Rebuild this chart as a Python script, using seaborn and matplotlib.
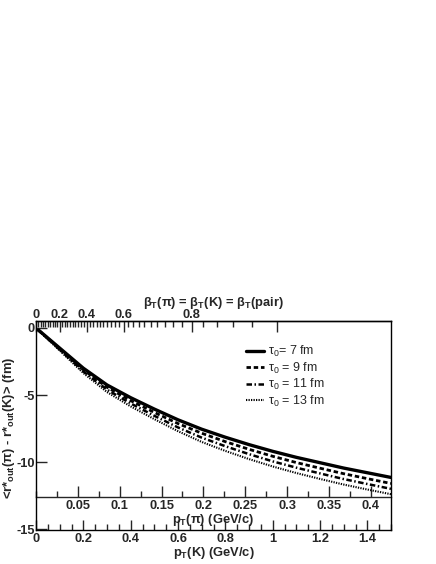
import numpy as np
import pandas as pd
import matplotlib
matplotlib.use("Agg")
import matplotlib.pyplot as plt
import matplotlib.ticker as mticker
import seaborn as sns

# data
p_kaon = [0.01, 0.05, 0.1, 0.2, 0.3, 0.4, 0.5, 0.6, 0.7, 0.8, 0.9, 1.0, 1.1, 1.2, 1.3, 1.4, 1.5]
tau7 = [-0.15, -0.75, -1.5, -3.0, -4.25, -5.2, -6.05, -6.85, -7.55, -8.15, -8.7, -9.2, -9.65, -10.05, -10.45, -10.8, -11.15]
tau9 = [-0.16, -0.78, -1.56, -3.12, -4.42, -5.42, -6.3, -7.13, -7.85, -8.48, -9.05, -9.57, -10.04, -10.46, -10.87, -11.24, -11.6]
tau11 = [-0.16, -0.81, -1.62, -3.24, -4.6, -5.63, -6.55, -7.42, -8.18, -8.82, -9.41, -9.95, -10.42, -10.85, -11.27, -11.64, -12.0]
tau13 = [-0.17, -0.84, -1.68, -3.36, -4.78, -5.85, -6.8, -7.7, -8.5, -9.17, -9.78, -10.33, -10.82, -11.26, -11.68, -12.05, -12.4]
labels = ["τ$_\\mathsf{0}$= 7 fm", "τ$_\\mathsf{0}$ = 9 fm", "τ$_\\mathsf{0}$ = 11 fm", "τ$_\\mathsf{0}$ = 13 fm"]

k_ticks = [0, 0.2, 0.4, 0.6, 0.8, 1.0, 1.2, 1.4]
pi_ticks = [0.05, 0.1, 0.15, 0.2, 0.25, 0.3, 0.35, 0.4]
beta_ticks = [0, 0.2, 0.4, 0.6, 0.8, 0.9]
beta_labels = ["0", "0.2", "0.4", "0.6", "0.8", ""]
y_ticks = [-15, -10, -5, 0]

M_PI = 0.1396
M_K = 0.4937

sns.set_style("ticks")
plt.rcParams['font.family'] = ['Liberation Sans', 'DejaVu Sans']
plt.rcParams['axes.unicode_minus'] = False
plt.rcParams['mathtext.fontset'] = 'custom'
plt.rcParams['mathtext.rm'] = 'Liberation Sans:bold'
plt.rcParams['mathtext.it'] = 'Liberation Sans:bold'
plt.rcParams['mathtext.bf'] = 'Liberation Sans:bold'
plt.rcParams['mathtext.sf'] = 'Liberation Sans'

df = pd.DataFrame({"pK": p_kaon * 4,
                   "val": tau7 + tau9 + tau11 + tau13,
                   "tau": sum([[l] * len(p_kaon) for l in labels], [])})

fig = plt.figure(figsize=(4.36, 5.64), dpi=100)
ax = fig.add_axes([36 / 436, 1 - 530 / 564, 355 / 436, 209 / 564])

styles = [dict(ls="-", lw=2.4),
          dict(ls=(0, (1.6, 1.0)), lw=2.0),
          dict(ls=(0, (2.2, 1.0, 0.6, 1.0)), lw=1.8),
          dict(ls=(0, (0.6, 0.6)), lw=1.5)]
for lab, st in zip(labels, styles):
    sns.lineplot(data=df[df["tau"] == lab], x="pK", y="val", color="black",
                 label=lab, ax=ax, **st)

ax.set_xlim(0, 1.5)
ax.set_ylim(-15.07, 0.52)
for s in ax.spines.values():
    s.set_linewidth(1.0)
    s.set_color("black")

ax.set_xticks(k_ticks)
ax.xaxis.set_major_formatter(mticker.FuncFormatter(lambda v, _: f"{v:g}"))
ax.xaxis.set_minor_locator(mticker.MultipleLocator(0.05))
ax.set_yticks(y_ticks)
ax.yaxis.set_major_formatter(mticker.FuncFormatter(lambda v, _: f"{v:g}"))
ax.tick_params(axis="x", which="major", direction="in", length=7, width=1, pad=2)
ax.tick_params(axis="x", which="minor", direction="in", length=4, width=1)
ax.tick_params(axis="y", which="major", direction="in", length=8, width=1, pad=1)
for t in ax.get_xticklabels() + ax.get_yticklabels():
    t.set_fontsize(9.3)
    t.set_fontweight("bold")

ax.set_xlabel("p$_\\mathrm{T}$(K) (GeV/c)", fontsize=9.3, fontweight="bold")
ax.xaxis.set_label_coords(0.5, -0.07)
ax.set_ylabel("<r*$_\\mathrm{out}$(π) - r*$_\\mathrm{out}$(K)> (fm)", fontsize=9.4, fontweight="bold")
ax.yaxis.set_label_coords(-0.053, 0.488)

# pion momentum axis drawn inside the frame
pi_ax = ax.secondary_xaxis(33 / 209, functions=(lambda k: k * M_PI / M_K, lambda p: p * M_K / M_PI))
pi_ax.set_xticks(pi_ticks)
pi_ax.xaxis.set_major_formatter(mticker.FuncFormatter(lambda v, _: f"{v:g}"))
pi_ax.xaxis.set_minor_locator(mticker.MultipleLocator(0.025))
pi_ax.tick_params(which="major", direction="in", length=8, width=1, pad=2, labelsize=9.3)
pi_ax.tick_params(which="minor", direction="in", length=4, width=1)
for t in pi_ax.get_xticklabels():
    t.set_fontweight("bold")
pi_ax.spines["bottom"].set_linewidth(1.0)
pi_ax.set_xlabel("p$_\\mathrm{T}$(π) (GeV/c)", fontsize=9.3, fontweight="bold", labelpad=0)


def k2beta(p):
    p = np.asarray(p, dtype=float)
    return p / np.sqrt(p ** 2 + M_K ** 2)


def beta2k(b):
    b = np.clip(np.asarray(b, dtype=float), -0.9999, 0.9999)
    return M_K * b / np.sqrt(1 - b ** 2)


top_ax = ax.secondary_xaxis("top", functions=(k2beta, beta2k))
top_ax.set_xticks(beta_ticks)
top_ax.set_xticklabels(beta_labels)
top_ax.xaxis.set_minor_locator(mticker.FixedLocator(np.arange(0, 0.90, 0.02)))
top_ax.tick_params(which="major", direction="in", length=8, width=1, pad=0, labelsize=9.3)
top_ax.tick_params(which="minor", direction="in", length=4, width=1)
for t in top_ax.get_xticklabels():
    t.set_fontweight("bold")
top_ax.spines["top"].set_linewidth(1.0)
top_ax.set_xlabel("β$_\\mathrm{T}$(π) = β$_\\mathrm{T}$(K) = β$_\\mathrm{T}$(pair)", fontsize=9.3,
                  fontweight="bold", labelpad=2.5)

ax.legend(loc="upper left", bbox_to_anchor=(210 / 355, (530 - 344) / 209), frameon=False,
          fontsize=9, handlelength=1.4, handletextpad=0.4, labelspacing=0.12,
          borderpad=0, borderaxespad=0)

fig.savefig("out.png", dpi=100)
